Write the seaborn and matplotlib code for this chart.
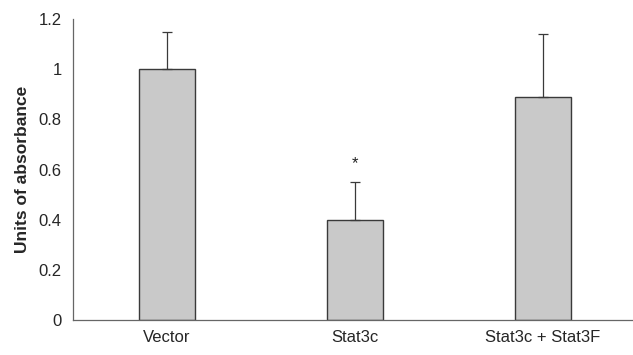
import pandas as pd
import matplotlib
matplotlib.use("Agg")
import matplotlib.pyplot as plt
import seaborn as sns
import numpy as np

# values
groups = ["Vector", "Stat3c", "Stat3c + Stat3F"]
absorbance = [1.0, 0.40, 0.89]
err_upper = [0.15, 0.15, 0.25]

df = pd.DataFrame({"Group": groups, "Absorbance": absorbance})

sns.set_style("white")
plt.rcParams['font.family'] = ['Liberation Sans', 'DejaVu Sans']

fig = plt.figure(figsize=(6.33, 3.55), dpi=100)
ax = fig.add_axes([0.115, 0.099, 0.885, 0.847])

sns.barplot(data=df, x="Group", y="Absorbance", color="#c9c9c9",
            edgecolor="#3a3a3a", linewidth=1.0, width=0.3, errorbar=None,
            saturation=1, ax=ax)

# one-sided error bars (upper only)
ax.errorbar(np.arange(len(groups)), absorbance,
            yerr=[np.zeros(len(groups)), err_upper], fmt="none",
            ecolor="#3a3a3a", elinewidth=0.9, capsize=3.5, capthick=0.9)

# significance mark
ax.text(1, 0.625, "*", ha="center", va="center", fontsize=12, color="#222222")

ax.set_xlim(-0.5, 2.48)
ax.set_ylim(0, 1.2)
ax.set_yticks([0, 0.2, 0.4, 0.6, 0.8, 1.0, 1.2])
ax.set_yticklabels(["0", "0.2", "0.4", "0.6", "0.8", "1", "1.2"])
ax.tick_params(axis="y", length=5, width=0.8, color="#555555", labelsize=12, pad=3)
ax.tick_params(axis="x", length=0, labelsize=12, pad=7)

for s in ["top", "right"]:
    ax.spines[s].set_visible(False)
for s in ["left", "bottom"]:
    ax.spines[s].set_color("#666666")
    ax.spines[s].set_linewidth(0.9)

ax.set_xlabel("")
ax.set_ylabel("Units of absorbance", fontsize=12.5, fontweight="bold", labelpad=6)

fig.savefig("out.png", dpi=100)
